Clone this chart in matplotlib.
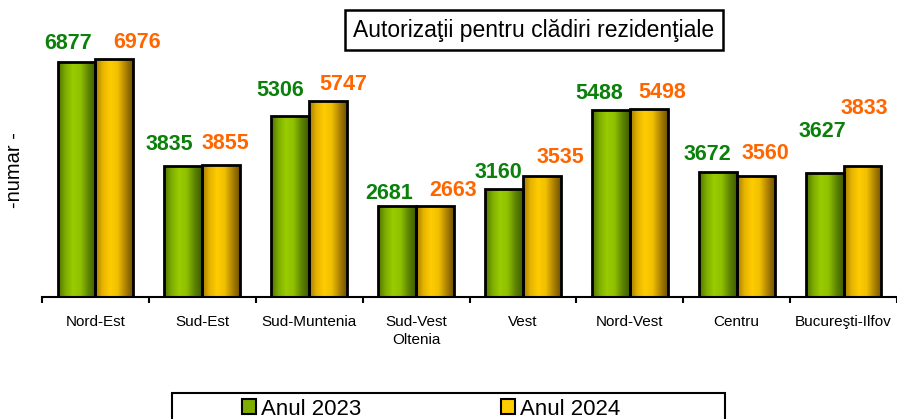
import numpy as np
import matplotlib
matplotlib.use("Agg")
import matplotlib.pyplot as plt
from matplotlib.colors import LinearSegmentedColormap
from matplotlib.patches import Patch, Rectangle

plt.rcParams['font.family'] = ['Liberation Sans', 'DejaVu Sans']

# data
regions = ['Nord-Est', 'Sud-Est', 'Sud-Muntenia', 'Sud-Vest\nOltenia', 'Vest',
           'Nord-Vest', 'Centru', 'Bucureşti-Ilfov']
anul_2023 = [6877, 3835, 5306, 2681, 3160, 5488, 3672, 3627]
anul_2024 = [6976, 3855, 5747, 2663, 3535, 5498, 3560, 3833]
series_names = ['Anul 2023', 'Anul 2024']

# label offsets (pixels) from top-centre of each bar, as placed in the original
off_2023 = [(-8, 19), (-14, 22), (-10, 25), (-8, 12), (-6, 17), (-12, 16), (-10, 17), (-2, 42)]
off_2024 = [(23, 16), (4, 22), (15, 16), (18, 16), (19, 19), (13, 17), (10, 22), (2, 58)]

green_cmap = LinearSegmentedColormap.from_list(
    'g', ['#4d7000', '#7fae00', '#99cc00', '#8fc000', '#5f8600', '#3f5c00'])
gold_cmap = LinearSegmentedColormap.from_list(
    'y', ['#a07a00', '#e6b400', '#ffcc00', '#f0bf00', '#b08400', '#6e5200'])

fig = plt.figure(figsize=(8.97, 4.19), dpi=100)
ax = fig.add_axes([42 / 897, 122 / 419, 1 - 42 / 897, 273 / 419])

x = np.arange(len(regions))
w = 0.354
grad = np.linspace(0, 1, 256).reshape(1, -1)


def gradient_bars(xpos, vals, cmap):
    bars = ax.bar(xpos, vals, w, facecolor='none', edgecolor='black', linewidth=2, zorder=3)
    for b in bars:
        x0, y0 = b.get_x(), b.get_y()
        im = ax.imshow(grad, cmap=cmap, aspect='auto', zorder=2,
                       extent=[x0, x0 + b.get_width(), y0, y0 + b.get_height()])
        im.set_clip_path(b)
    return bars


bars1 = gradient_bars(x - w / 2, anul_2023, green_cmap)
bars2 = gradient_bars(x + w / 2, anul_2024, gold_cmap)

for bars, vals, offs, col in [(bars1, anul_2023, off_2023, '#0b800b'),
                              (bars2, anul_2024, off_2024, '#ff6600')]:
    for b, v, (dx, dy) in zip(bars, vals, offs):
        ax.annotate(str(v), (b.get_x() + b.get_width() / 2, v), xytext=(dx, dy),
                    textcoords='offset pixels', ha='center', va='center',
                    fontsize=15.5, fontweight='bold', color=col)

ax.set_xlim(-0.5, 7.47)
ax.set_ylim(0, 8000)
for s in ['top', 'right', 'left']:
    ax.spines[s].set_visible(False)
ax.spines['bottom'].set_linewidth(1.5)
ax.set_yticks([])
ax.set_xticks(x)
ax.set_xticklabels(regions, fontsize=11, linespacing=1.4)
ax.tick_params(axis='x', which='major', length=0, pad=13)
ax.set_xticks(np.arange(-0.5, 8, 1), minor=True)
ax.tick_params(axis='x', which='minor', length=4.5, width=1.5, direction='out')

fig.text(15 / 897, 1 - 170 / 419, '-numar -', rotation=90, ha='center', va='center', fontsize=14.5)

fig.text(534 / 897, 1 - 30 / 419, 'Autorizaţii pentru clădiri rezidenţiale', ha='center', va='center',
         fontsize=16.5, bbox=dict(boxstyle='square,pad=0.35', facecolor='white', edgecolor='black', linewidth=1.8))

# legend
fig.patches.append(Rectangle((172 / 897, -0.05), (725 - 172) / 897, 0.05 + (419 - 393) / 419,
                             transform=fig.transFigure, facecolor='white', edgecolor='black',
                             linewidth=1.5))
handles = [Patch(facecolor='#7fae00', edgecolor='black', linewidth=1.5),
           Patch(facecolor='#ffcc00', edgecolor='black', linewidth=1.5)]
fig.legend(handles, series_names, loc='center', bbox_to_anchor=(431 / 897, 1 - 409 / 419),
           ncol=2, frameon=False, fontsize=16, handlelength=0.65, handleheight=0.65,
           handletextpad=0.2, columnspacing=6.3, borderpad=0)

fig.savefig('out.png', dpi=100)
